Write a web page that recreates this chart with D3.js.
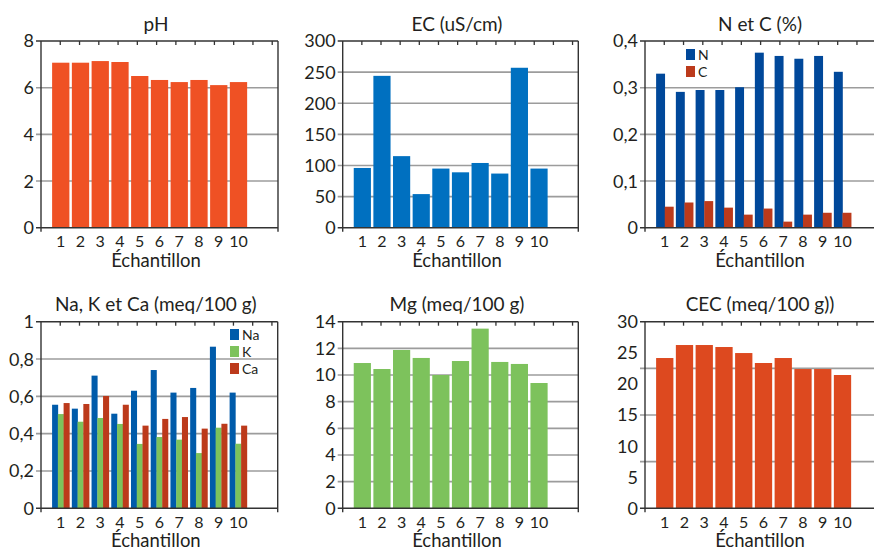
<!DOCTYPE html>
<html><head><meta charset="utf-8">
<script src="https://cdn.jsdelivr.net/npm/d3@7"></script>
<style>
html,body{margin:0;padding:0;background:#fff;}
text{font-family:Lato,"Open Sans",sans-serif;fill:#231F20;}
</style></head>
<body><svg id="chart" width="874" height="550"></svg>
<script>
// ---- data ----
const categories = ["1","2","3","4","5","6","7","8","9","10"];
const phValues  = [7.07, 7.07, 7.14, 7.10, 6.50, 6.33, 6.24, 6.33, 6.11, 6.24];
const ecValues  = [96, 244, 115, 54, 95, 89, 104, 87, 257, 95];
const nValues   = [0.330, 0.291, 0.295, 0.295, 0.301, 0.375, 0.368, 0.362, 0.368, 0.334];
const cValues   = [0.045, 0.054, 0.057, 0.043, 0.028, 0.041, 0.013, 0.028, 0.032, 0.032];
const naValues  = [0.555, 0.534, 0.711, 0.507, 0.630, 0.741, 0.620, 0.645, 0.866, 0.620];
const kValues   = [0.505, 0.464, 0.484, 0.452, 0.345, 0.382, 0.368, 0.296, 0.432, 0.346];
const caValues  = [0.564, 0.559, 0.602, 0.555, 0.443, 0.479, 0.489, 0.427, 0.453, 0.443];
const mgValues  = [10.9, 10.45, 11.88, 11.28, 10.0, 11.05, 13.48, 10.98, 10.83, 9.4];
const cecValues = [24.16, 26.25, 26.25, 25.93, 24.96, 23.36, 24.16, 22.39, 22.39, 21.43];

const titles = ["pH", "EC (uS/cm)", "N et C (%)", "Na, K et Ca (meq/100 g)", "Mg (meq/100 g)", "CEC (meq/100 g))"];
const xTitle = "Échantillon";
const phTicks  = [0, 2, 4, 6, 8];
const ecTicks  = [0, 50, 100, 150, 200, 250, 300];
const ncTicks  = [0, 0.1, 0.2, 0.3, 0.4];
const nakTicks = [0, 0.2, 0.4, 0.6, 0.8, 1];
const mgTicks  = [0, 2, 4, 6, 8, 10, 12, 14];
const cecTicks = [0, 5, 10, 15, 20, 25, 30];
const cecGrid  = [7.5, 15, 22.5];

// ---- layout ----
const svg = d3.select("#chart");
const fr = d3.formatLocale({decimal: ",", thousands: " ", grouping: [3], currency: ["", ""]});
const fmt = fr.format("~g");

const panels = [
  {title: titles[0], l: 41, r: 278, t: 41, b: 227.7, ticks: phTicks, grid: phTicks,
   series: [{name: "pH", values: phValues, color: "#EF5124"}]},
  {title: titles[1], l: 342.7, r: 578.3, t: 41, b: 227.7, ticks: ecTicks, grid: ecTicks,
   series: [{name: "EC", values: ecValues, color: "#0070C0"}]},
  {title: titles[2], l: 645, r: 882, t: 41, b: 227.7, ticks: ncTicks, grid: ncTicks,
   series: [{name: "N", values: nValues, color: "#00489A"}, {name: "C", values: cValues, color: "#BC3A1B"}],
   legend: {x: 686, y: 47}},
  {title: titles[3], l: 41, r: 277.7, t: 321.7, b: 508.3, ticks: nakTicks, grid: nakTicks,
   series: [{name: "Na", values: naValues, color: "#005BAA"}, {name: "K", values: kValues, color: "#7DC25C"},
            {name: "Ca", values: caValues, color: "#BC3A1B"}],
   legend: {x: 230, y: 327}},
  {title: titles[4], l: 342.7, r: 578.3, t: 321.7, b: 508.3, ticks: mgTicks, grid: mgTicks,
   series: [{name: "Mg", values: mgValues, color: "#7DC25C"}]},
  {title: titles[5], l: 645, r: 882, t: 321.7, b: 508.3, ticks: cecTicks, grid: cecGrid,
   series: [{name: "CEC", values: cecValues, color: "#DD491F"}]}
];

panels.forEach(p => {
  const g = svg.append("g");
  const x = d3.scaleLinear().domain([0, 12]).range([p.l, p.r]);
  const xTop = d3.scaleLinear().domain([0, 12.3]).range([p.l, p.r]);
  const maxT = d3.max(p.ticks);
  const y = d3.scaleLinear().domain([0, maxT]).range([p.b, p.t]);
  const unit = x(1) - x(0);
  const groupW = unit * 0.875;
  const ns = p.series.length;
  const bw = groupW / ns;

  // gridlines (with small outside tick)
  g.selectAll(".grid").data(p.grid.filter(v => v > 0 && v < maxT)).join("line")
    .attr("x1", p.l - 5).attr("x2", p.r).attr("y1", d => y(d)).attr("y2", d => y(d))
    .attr("stroke", "#9c9c9c").attr("stroke-width", 1.6);

  // bars
  p.series.forEach((s, si) => {
    g.selectAll(".bar" + si).data(s.values).join("rect")
      .attr("x", (d, i) => x(i + 1) - groupW / 2 + si * bw)
      .attr("width", bw + (ns > 1 ? 0.3 : 0))
      .attr("y", d => y(d)).attr("height", d => y(0) - y(d))
      .attr("fill", s.color);
  });

  // frame
  const fc = "#333";
  const fw = 1.4;
  g.append("line").attr("x1", p.l - 5).attr("x2", p.r).attr("y1", p.t).attr("y2", p.t).attr("stroke", fc).attr("stroke-width", fw);
  g.append("line").attr("x1", p.l - 5).attr("x2", p.r).attr("y1", p.b).attr("y2", p.b).attr("stroke", fc).attr("stroke-width", fw);
  g.append("line").attr("x1", p.l).attr("x2", p.l).attr("y1", p.t).attr("y2", p.b + 4).attr("stroke", fc).attr("stroke-width", fw);
  g.append("line").attr("x1", p.r).attr("x2", p.r).attr("y1", p.t).attr("y2", p.b + 4).attr("stroke", fc).attr("stroke-width", fw);
  // top inner ticks
  g.selectAll(".tt").data(d3.range(1, 13)).join("line")
    .attr("x1", d => xTop(d)).attr("x2", d => xTop(d)).attr("y1", p.t).attr("y2", p.t + 4)
    .attr("stroke", fc).attr("stroke-width", 1.3);

  // y labels
  g.selectAll(".yl").data(p.ticks).join("text")
    .attr("x", p.l - 7).attr("y", d => y(d)).attr("dy", "0.36em")
    .attr("text-anchor", "end").attr("font-size", 18)
    .text(d => fmt(d));

  // x labels
  g.selectAll(".xl").data(categories).join("text")
    .attr("x", (d, i) => x(i + 1)).attr("y", p.b + 19.5)
    .attr("text-anchor", "middle").attr("font-size", 16)
    .text(d => d);

  const cx = (p.l + p.r) / 2 - 3.5;
  g.append("text").attr("x", cx).attr("y", p.b + 39).attr("text-anchor", "middle")
    .attr("font-size", 18.5).text(xTitle);
  g.append("text").attr("x", cx).attr("y", p.t - 10.5).attr("text-anchor", "middle")
    .attr("font-size", 19).text(p.title);

  // legend
  if (p.legend) {
    const lg = g.append("g");
    p.series.forEach((s, si) => {
      const yy = p.legend.y + si * 17;
      lg.append("rect").attr("x", p.legend.x).attr("y", yy + 2).attr("width", 9).attr("height", 11).attr("fill", s.color);
      lg.append("text").attr("x", p.legend.x + 12).attr("y", yy + 13).attr("font-size", 14).text(s.name);
    });
  }
});
</script>
</body></html>
